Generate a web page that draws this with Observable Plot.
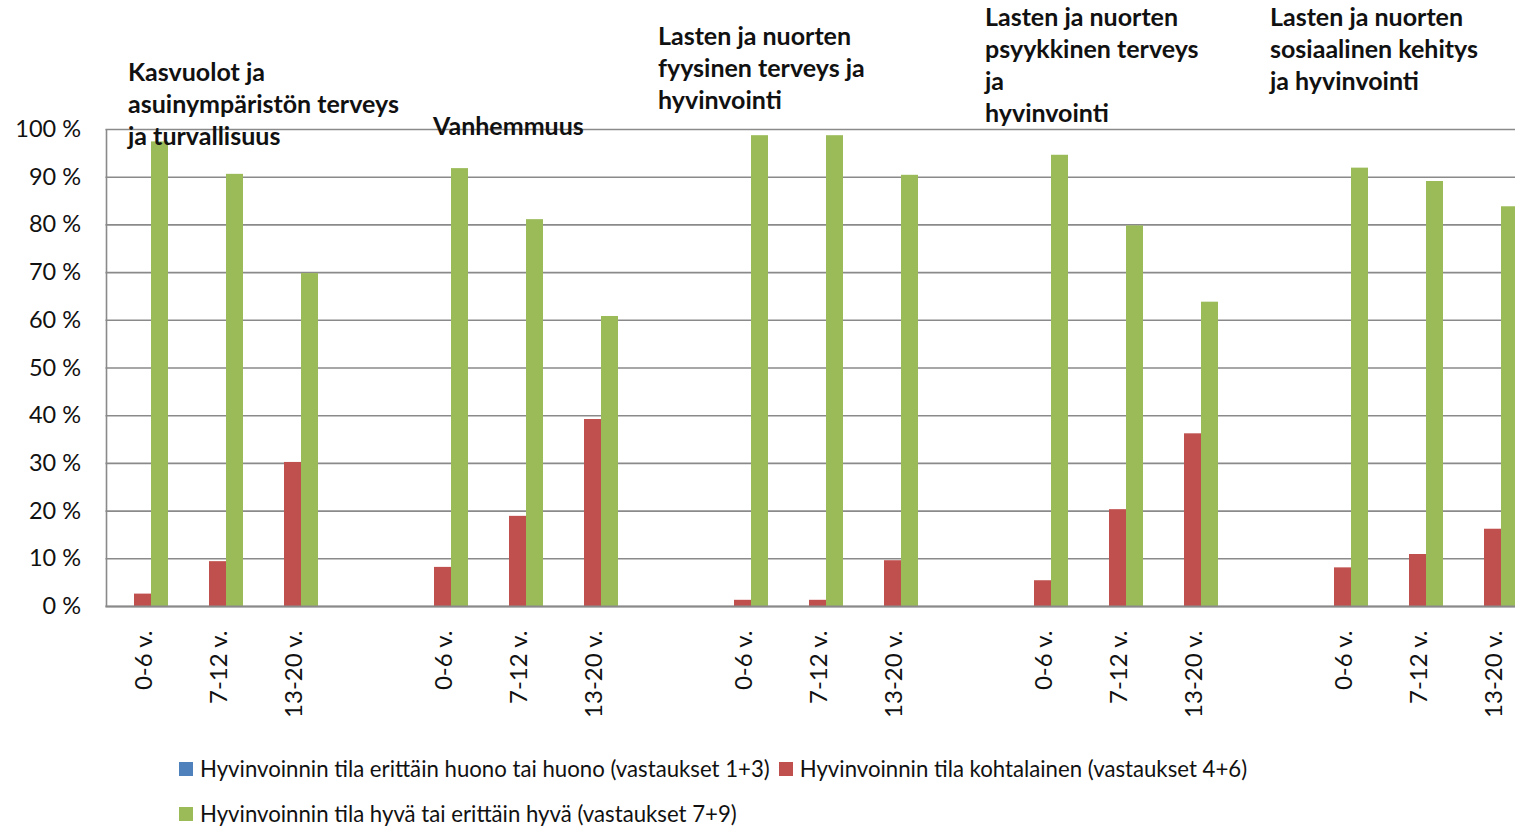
<!DOCTYPE html>
<html>
<head>
<meta charset="utf-8">
<script src="https://cdn.jsdelivr.net/npm/d3@7"></script>
<script src="https://cdn.jsdelivr.net/npm/@observablehq/plot@0.6"></script>
<style>
  html, body { margin: 0; padding: 0; background: #fff; overflow: hidden; }
  #wrap { position: relative; width: 1515px; height: 826px; }
  .legend { position: absolute; left: 179px; font-family: Lato, "Open Sans", sans-serif; font-size: 22.2px; color: #111; display: flex; align-items: center; white-space: nowrap; }
  .legend .item { display: flex; align-items: center; margin-right: 9px; }
  .legend .sw { width: 14px; height: 14px; margin-right: 7px; display: inline-block; }
</style>
</head>
<body>
<div id="wrap"></div>
<script>
// ---- data ----
const groups = [
  "Kasvuolot ja\nasuinympäristön terveys\nja turvallisuus",
  "Vanhemmuus",
  "Lasten ja nuorten\nfyysinen terveys ja\nhyvinvointi",
  "Lasten ja nuorten\npsyykkinen terveys\nja\nhyvinvointi",
  "Lasten ja nuorten\nsosiaalinen kehitys\nja hyvinvointi"
];
const ages = ["0-6 v.", "7-12 v.", "13-20 v."];
const seriesNames = [
  "Hyvinvoinnin tila erittäin huono tai huono (vastaukset 1+3)",
  "Hyvinvoinnin tila kohtalainen (vastaukset 4+6)",
  "Hyvinvoinnin tila hyvä tai erittäin hyvä (vastaukset 7+9)"
];
const seriesColors = ["#4F81BD", "#C0504D", "#9BBB59"];
const huono       = [0, 0, 0,  0, 0, 0,  0, 0, 0,  0, 0, 0,  0, 0, 0];
const kohtalainen = [2.6, 9.4, 30.2,  8.2, 18.9, 39.2,  1.3, 1.3, 9.6,  5.4, 20.3, 36.2,  8.1, 10.9, 16.2];
const hyva        = [97.4, 90.6, 69.8,  91.8, 81.1, 60.8,  98.7, 98.7, 90.4,  94.6, 79.8, 63.8,  91.9, 89.1, 83.8];
const yTicks = [0, 10, 20, 30, 40, 50, 60, 70, 80, 90, 100];

// ---- build table ----
const slots = [];
groups.forEach((g, gi) => {
  ages.forEach(a => slots.push(gi + "|" + a));
  if (gi < groups.length - 1) slots.push("gap" + gi);
});
const seriesValues = [huono, kohtalainen, hyva];
const rows = [];
seriesNames.forEach((s, si) => {
  groups.forEach((g, gi) => ages.forEach((a, ai) => {
    rows.push({series: s, si, slot: gi + "|" + a, value: seriesValues[si][gi * ages.length + ai]});
  }));
});
const titleRows = groups.map((g, gi) => ({title: g, gi, slot: gi + "|" + ages[0]}));
// title placement (layout only)
const titleDx = [-16, -11, -86, -59, -74];
const titleDy = [-71, -17, -107, -126, -126];

const font = "Lato, 'Open Sans', sans-serif";
const barW = 17;

const marks = [
  Plot.ruleY(yTicks, {stroke: "#8a8a8a", strokeWidth: 1.6}),
  ...seriesNames.map((s, si) => Plot.barY(rows.filter(r => r.si === si), {
    x: "slot", y: "value", fill: "series",
    insetLeft: 28.5, insetRight: 29.5, dx: (si - 1) * barW - 0.5
  })),
  Plot.ruleX([0], {x: () => slots[0], stroke: "#8a8a8a", strokeWidth: 1.6, dx: -37.5, y1: 0, y2: 100}),
  Plot.ruleY([0], {stroke: "#8a8a8a", strokeWidth: 2}),
  Plot.axisY({ticks: yTicks, tickSize: 0, tickPadding: 25, label: null, tickFormat: d => d + " %", fontSize: 23.5, fill: "#111"}),
  Plot.axisX({tickRotate: -90, tickSize: 0, tickPadding: 24, label: null, fontSize: 24, fill: "#111",
    tickFormat: k => k.startsWith("gap") ? "" : k.split("|")[1]}),
  ...titleRows.map(t => Plot.text([t], {
    x: "slot", text: "title", frameAnchor: "top", textAnchor: "start", lineAnchor: "top",
    dx: titleDx[t.gi], dy: titleDy[t.gi], fontSize: 25, fontWeight: "bold", lineHeight: 1.28, fill: "#111"
  }))
];

const chart = Plot.plot({
  width: 1515,
  height: 740,
  marginLeft: 105.5,
  marginRight: 0,
  marginTop: 129,
  marginBottom: 134,
  style: {fontFamily: font, background: "transparent", overflow: "visible"},
  x: {domain: slots, range: [105.5, 1530.5], padding: 0, axis: null},
  y: {domain: [0, 100], axis: null},
  color: {domain: seriesNames, range: seriesColors},
  marks
});
document.getElementById("wrap").appendChild(chart);
chart.style.position = "absolute"; chart.style.left = "0"; chart.style.top = "0";

// legend (HTML, below the plot area)
const legendRows = [[0, 1], [2]];
const legendTops = [755, 800];
legendRows.forEach((items, ri) => {
  const div = document.createElement("div");
  div.className = "legend";
  div.style.top = legendTops[ri] + "px";
  items.forEach(i => {
    const it = document.createElement("span");
    it.className = "item";
    it.innerHTML = `<span class="sw" style="background:${seriesColors[i]}"></span><span>${seriesNames[i]}</span>`;
    div.appendChild(it);
  });
  document.getElementById("wrap").appendChild(div);
});
</script>
</body>
</html>
